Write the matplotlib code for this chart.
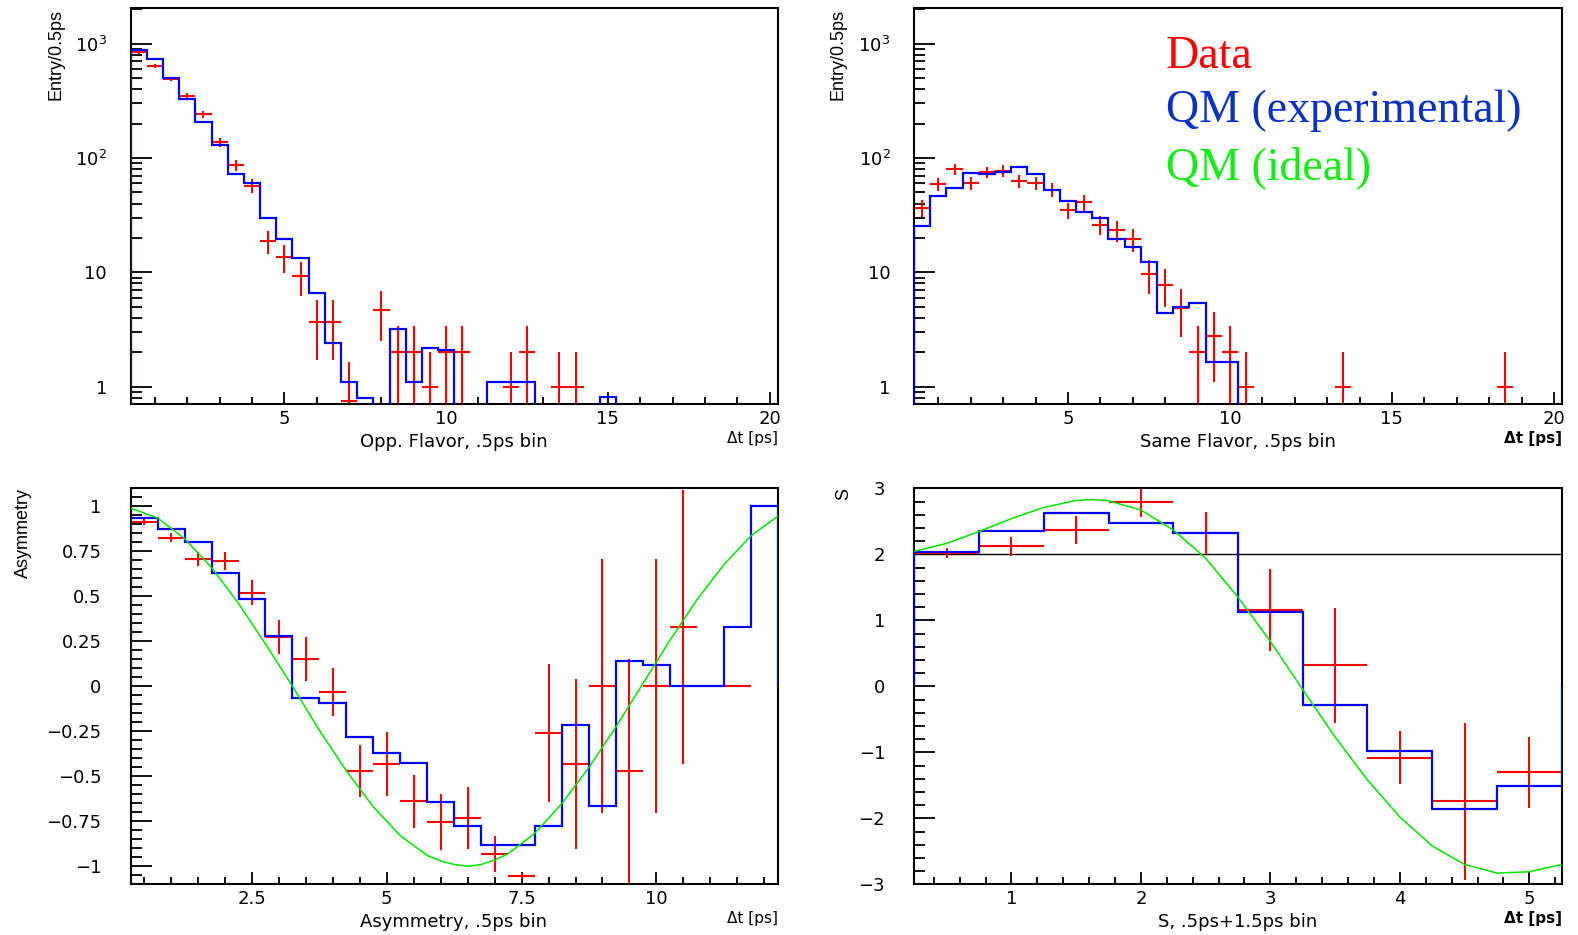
import numpy as np
import matplotlib
matplotlib.use("Agg")
import matplotlib.pyplot as plt
from matplotlib.ticker import (FixedLocator, MultipleLocator, LogLocator,
                               FixedFormatter, NullFormatter)

plt.rcParams['font.family'] = ['DejaVu Sans']

W, H = 1578, 935

# ---------------- data ----------------
bin_width = 0.5
first_edge = 0.25

# Opposite flavour (top-left)
opp_x = [0.5, 1.0, 1.5, 2.0, 2.5, 3.0, 3.5, 4.0, 4.5, 5.0, 5.5, 6.0, 6.5, 7.0,
         8.0, 8.5, 9.0, 9.5, 10.0, 10.5, 12.0, 12.5, 13.5, 14.0]
opp_y = [843, 641, 490, 348, 241, 138, 87, 57, 18.8, 13.7, 9.3, 3.7, 3.7, 0.75,
         4.7, 2.0, 2.0, 1.0, 2.0, 2.0, 1.0, 2.0, 1.0, 1.0]
opp_err = [29, 25, 22, 19, 16, 12, 10, 8, 4.4, 3.8, 3.1, 2.0, 2.0, 0.9,
           2.2, 1.4, 1.4, 1.0, 1.4, 1.4, 1.0, 1.4, 1.0, 1.0]
opp_qm = [873, 733, 497, 330, 205, 129, 72.5, 60.5, 29.9, 19.6, 13.4, 6.6, 2.39,
          1.09, 0.80, 0, 3.17, 1.09, 2.19, 2.09, 0, 0, 1.09, 1.09, 1.09, 0, 0,
          0, 0, 0.81]

# Same flavour (top-right)
same_x = [0.5, 1.0, 1.5, 2.0, 2.5, 3.0, 3.5, 4.0, 4.5, 5.0, 5.5, 6.0, 6.5, 7.0,
          7.5, 8.0, 8.5, 9.0, 9.5, 10.0, 10.5, 13.5, 18.5]
same_y = [36.6, 58.9, 80, 60.5, 75, 77.6, 62.6, 60.5, 53, 34.9, 41, 26.2, 23.4,
          19.5, 9.6, 7.8, 4.9, 2.0, 2.79, 2.0, 1.0, 1.0, 1.0]
same_err = [6.0, 7.7, 8.9, 7.8, 8.7, 8.8, 7.9, 7.8, 7.3, 5.9, 6.4, 5.1, 4.8,
            4.4, 3.1, 2.8, 2.2, 1.4, 1.7, 1.4, 1.0, 1.0, 1.0]
same_qm = [25.5, 46.3, 54.7, 74.5, 73, 75.5, 83.4, 72.5, 53, 41.9, 33.6, 29.9,
           19.4, 16.7, 12.3, 4.38, 5.0, 5.4, 1.64, 1.64]

# Asymmetry (bottom-left)
asym_x = [0.5, 1.0, 1.5, 2.0, 2.5, 3.0, 3.5, 4.0, 4.5, 5.0, 5.5, 6.0, 6.5, 7.0,
          7.5, 8.0, 8.5, 9.0, 9.5, 10.0, 10.5, 11.5]
asym_y = [0.915, 0.826, 0.707, 0.697, 0.520, 0.274, 0.152, -0.031, -0.471,
          -0.434, -0.638, -0.754, -0.730, -0.930, -1.054, -0.259, -0.431, 0.0,
          -0.471, 0.0, 0.331, 0.0]
asym_err = [0.02, 0.026, 0.04, 0.05, 0.068, 0.094, 0.12, 0.134, 0.146, 0.178,
            0.148, 0.157, 0.173, 0.10, 0.015, 0.381, 0.472, 0.705, 0.62, 0.705,
            0.762, 0.0]
asym_qm = [0.937, 0.873, 0.803, 0.631, 0.485, 0.277, -0.067, -0.092, -0.283,
           -0.369, -0.427, -0.643, -0.778, -0.880, -0.880, -0.778, -0.214,
           -0.667, 0.141, 0.119, 0.0, 0.0, 0.331, 1.0]
asym_ideal_t = [0.25, 0.75, 1.25, 1.75, 2.25, 2.75, 3.25, 3.75, 4.25, 4.75,
                5.25, 5.75, 6.0, 6.25, 6.5, 6.75, 7.0, 7.25, 7.75, 8.25, 8.75,
                9.25, 9.75, 10.25, 10.75, 11.25, 11.75, 12.25]
asym_ideal = [0.99, 0.935, 0.82, 0.66, 0.46, 0.235, 0.0, -0.245, -0.47, -0.67,
              -0.83, -0.94, -0.97, -0.99, -1.0, -0.99, -0.965, -0.93, -0.815,
              -0.65, -0.45, -0.225, 0.015, 0.255, 0.48, 0.675, 0.835, 0.945]

# S (bottom-right)
s_x = [0.5, 1.0, 1.5, 2.0, 2.5, 3.0, 3.5, 4.0, 4.5, 5.0]
s_y = [2.02, 2.12, 2.37, 2.79, 2.32, 1.15, 0.318, -1.08, -1.742, -1.303]
s_err = [0.08, 0.14, 0.21, 0.22, 0.32, 0.62, 0.87, 0.40, 1.19, 0.535]
s_qm = [2.035, 2.36, 2.62, 2.48, 2.32, 1.126, -0.278, -0.985, -1.853, -1.515]
s_ideal_t = [0.25, 0.5, 0.75, 1.0, 1.25, 1.5, 1.625, 1.75, 2.0, 2.25, 2.5,
             2.75, 3.0, 3.25, 3.5, 3.75, 4.0, 4.25, 4.5, 4.75, 5.0, 5.25]
s_ideal = [2.045, 2.165, 2.345, 2.54, 2.71, 2.815, 2.83, 2.81, 2.67, 2.37,
           1.94, 1.35, 0.68, -0.05, -0.77, -1.42, -1.98, -2.42, -2.70, -2.83,
           -2.81, -2.70]
s_limit = 2.0

# tick labels
top_xticks = [5, 10, 15, 20]
top_xlabels = ['5', '10', '15', '20']
log_yticks = [1, 10, 100, 1000]
log_ylabels = ['1', '10', r'$\mathregular{10^{2}}$', r'$\mathregular{10^{3}}$']
asym_xticks = [2.5, 5, 7.5, 10]
asym_xlabels = ['2.5', '5', '7.5', '10']
asym_yticks = [-1, -0.75, -0.5, -0.25, 0, 0.25, 0.5, 0.75, 1]
asym_ylabels = ['\u22121', '\u22120.75', '\u22120.5', '\u22120.25', '0',
                '0.25', '0.5', '0.75', '1']
s_xticks = [1, 2, 3, 4, 5]
s_xlabels = ['1', '2', '3', '4', '5']
s_yticks = [-3, -2, -1, 0, 1, 2, 3]
s_ylabels = ['\u22123', '\u22122', '\u22121', '0', '1', '2', '3']

RED = '#ff0000'
BLUE = '#0000ff'
GREEN = '#00e600'

# ---------------- figure ----------------
fig = plt.figure(figsize=(W / 100, H / 100), dpi=100)


def px(x):
    return x / W


def py(y):
    return 1 - y / H


def add_axes(l, r, t, b):
    return fig.add_axes([l / W, 1 - b / H, (r - l) / W, (b - t) / H])


def style(ax, ypad=21):
    for s in ax.spines.values():
        s.set_linewidth(1.5)
        s.set_color('black')
    ax.tick_params(which='both', direction='in', top=False, right=False,
                   width=1.3, colors='black', labelsize=13)
    ax.tick_params(axis='x', which='major', length=9, pad=4)
    ax.tick_params(axis='x', which='minor', length=5)
    ax.tick_params(axis='y', which='major', length=15, pad=ypad)
    ax.tick_params(axis='y', which='minor', length=8)


def edges_for(values):
    return first_edge + bin_width * np.arange(len(values) + 1)


def draw_hist_panel(ax, x, y, err, qm):
    ax.errorbar(x, y, xerr=bin_width / 2, yerr=err, fmt='none', ecolor=RED,
                elinewidth=1.5, capsize=0, zorder=2)
    ax.stairs(qm, edges_for(qm), baseline=0, color=BLUE, lw=1.6, zorder=3)


ax_tl = add_axes(130.7, 777.7, 8, 404)
ax_tr = add_axes(914, 1562, 8, 404)
ax_bl = add_axes(130.7, 777.7, 488.3, 884.3)
ax_br = add_axes(914.3, 1561.7, 488.3, 884.3)

for ax, x, y, err, qm in [(ax_tl, opp_x, opp_y, opp_err, opp_qm),
                          (ax_tr, same_x, same_y, same_err, same_qm)]:
    ax.set_yscale('log', nonpositive='clip')
    draw_hist_panel(ax, x, y, err, qm)
    ax.set_xlim(0.25, 20.25)
    ax.set_ylim(0.706, 2050)
    ax.xaxis.set_major_locator(FixedLocator(top_xticks))
    ax.xaxis.set_major_formatter(FixedFormatter(top_xlabels))
    ax.xaxis.set_minor_locator(MultipleLocator(1))
    ax.yaxis.set_major_locator(FixedLocator(log_yticks))
    ax.yaxis.set_major_formatter(FixedFormatter(log_ylabels))
    ax.yaxis.set_minor_locator(LogLocator(base=10, subs=np.arange(2, 10)))
    ax.yaxis.set_minor_formatter(NullFormatter())
    style(ax, ypad=17)

# Asymmetry
draw_hist_panel(ax_bl, asym_x, asym_y, asym_err, asym_qm)
ax_bl.plot(asym_ideal_t, asym_ideal, color=GREEN, lw=1.1, zorder=4)
ax_bl.set_xlim(0.25, 12.25)
ax_bl.set_ylim(-1.1, 1.1)
ax_bl.xaxis.set_major_locator(FixedLocator(asym_xticks))
ax_bl.xaxis.set_major_formatter(FixedFormatter(asym_xlabels))
ax_bl.xaxis.set_minor_locator(MultipleLocator(0.5))
ax_bl.yaxis.set_major_locator(FixedLocator(asym_yticks))
ax_bl.yaxis.set_major_formatter(FixedFormatter(asym_ylabels))
ax_bl.yaxis.set_minor_locator(MultipleLocator(0.05))
style(ax_bl)

# S
draw_hist_panel(ax_br, s_x, s_y, s_err, s_qm)
ax_br.plot(s_ideal_t, s_ideal, color=GREEN, lw=1.1, zorder=4)
ax_br.axhline(s_limit, color='black', lw=1.0, zorder=1)
ax_br.set_xlim(0.25, 5.25)
ax_br.set_ylim(-3, 3)
ax_br.xaxis.set_major_locator(FixedLocator(s_xticks))
ax_br.xaxis.set_major_formatter(FixedFormatter(s_xlabels))
ax_br.xaxis.set_minor_locator(MultipleLocator(0.2))
ax_br.yaxis.set_major_locator(FixedLocator(s_yticks))
ax_br.yaxis.set_major_formatter(FixedFormatter(s_ylabels))
ax_br.yaxis.set_minor_locator(MultipleLocator(0.2))
style(ax_br)

# ---------------- texts ----------------
xl_kw = dict(ha='center', va='center', fontsize=13)
fig.text(px(454), py(442), 'Opp. Flavor, .5ps bin', **xl_kw)
fig.text(px(1238), py(442), 'Same Flavor, .5ps bin', **xl_kw)
fig.text(px(454), py(922), 'Asymmetry, .5ps bin', **xl_kw)
fig.text(px(1238), py(922), 'S, .5ps+1.5ps bin', **xl_kw)

dt_kw = dict(ha='right', va='center', fontsize=11)
fig.text(px(778), py(438), '\u0394t [ps]', **dt_kw)
fig.text(px(1562), py(438), '\u0394t [ps]', fontweight='bold', **dt_kw)
fig.text(px(778), py(918), '\u0394t [ps]', **dt_kw)
fig.text(px(1562), py(918), '\u0394t [ps]', fontweight='bold', **dt_kw)

yl_kw = dict(rotation=90, ha='center', va='top', fontsize=13,
             family='Liberation Sans')
fig.text(px(56), py(9), 'Entry/0.5ps', **yl_kw)
fig.text(px(838), py(9), 'Entry/0.5ps', **yl_kw)
fig.text(px(23), py(488), 'Asymmetry', **yl_kw)
fig.text(px(844), py(488), 'S', **yl_kw)

lg_kw = dict(ha='left', va='baseline', fontsize=33, family='Liberation Serif')
fig.text(px(1166), py(67.5), 'Data', color=RED, **lg_kw)
fig.text(px(1166), py(122.5), 'QM (experimental)', color='#0a30c8', **lg_kw)
fig.text(px(1166), py(179.5), 'QM (ideal)', color='#11ee11', **lg_kw)

fig.savefig('out.png', dpi=100, facecolor='white')
